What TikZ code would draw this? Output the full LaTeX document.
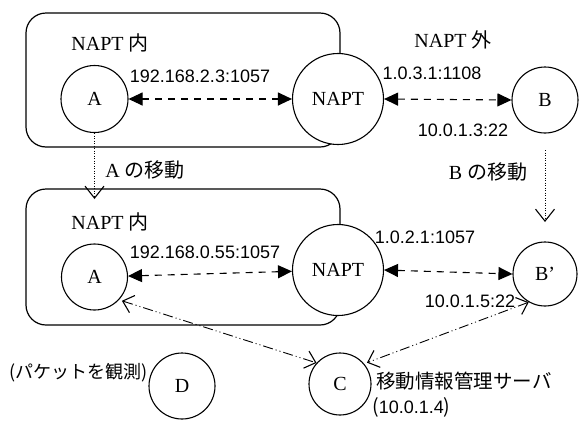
\documentclass[tikz,border=0pt]{standalone}
\usepackage{fontspec}
\setmainfont{Liberation Serif}
\setsansfont{Liberation Sans}
\newfontfamily\jp{Noto Sans CJK JP}
\newfontfamily\jpp[CharacterWidth=Proportional]{Noto Sans CJK JP}
\usetikzlibrary{arrows.meta}
\begin{document}
\begin{tikzpicture}[x=1pt,y=-1pt,
  box/.style={draw,line width=1.2pt,rounded corners=20pt,inner sep=0pt},
  circ/.style={draw,circle,line width=1.1pt,fill=white,inner sep=0pt,font=\fontsize{20}{24}\selectfont},
  lbl/.style={inner sep=0pt,font=\fontsize{20}{24}\selectfont},
  num/.style={inner sep=0pt,font=\sffamily\fontsize{18}{22}\selectfont},
  jlbl/.style={inner sep=0pt,font=\jp\fontsize{19.5}{22}\selectfont},
  dasharrow/.style={line width=1.1pt,dash pattern=on 7pt off 6pt,{Triangle[length=14pt,width=13pt]}-{Triangle[length=14pt,width=13pt]}},
  movearrow/.style={line width=0.9pt,dash pattern=on 1pt off 1.5pt,-{Straight Barb[length=12pt,width=19pt,line width=1.1pt]}},
  ddarrow/.style={line width=0.9pt,dash pattern=on 10pt off 3pt on 1pt off 3pt on 1pt off 3pt,{Straight Barb[length=10pt,width=18pt,line width=1.1pt]}-{Straight Barb[length=10pt,width=18pt,line width=1.1pt]}}
]
\useasboundingbox (0,0) rectangle (579,421);
% boxes
\node[box,minimum width=314pt,minimum height=134pt] (box1) at (183,80) {};
\node[box,minimum width=314pt,minimum height=136pt] (box2) at (183,257) {};
% circles
\node[circ,minimum size=67pt] (A1) at (94.5,99) {A};
\node[circ,minimum size=91pt] (N1) at (338,99) {NAPT};
\node[circ,minimum size=66pt] (B1) at (545,100) {B};
\node[circ,minimum size=66pt] (A2) at (94.5,277) {A};
\node[circ,minimum size=91pt] (N2) at (338,270) {NAPT};
\node[circ,minimum size=64pt] (B2) at (545,274) {B’};
\node[circ,minimum size=62pt] (C) at (340,384) {C};
\node[circ,minimum size=66pt] (D) at (182,386) {D};
% labels
\node[lbl] (t1) at (110,43) {NAPT {\jp 内}};
\node[lbl] (t2) at (110,222) {NAPT {\jp 内}};
\node[lbl] (t3) at (453,40) {NAPT {\jp 外}};
\node[lbl] (t4) at (145,170) {A {\jp の移動}};
\node[lbl] (t5) at (488,172) {B {\jp の移動}};
\node[num] (n1) at (200,76) {192.168.2.3:1057};
\node[num] (n2) at (205,252) {192.168.0.55:1057};
\node[num] (n3) at (432,73) {1.0.3.1:1108};
\node[num] (n4) at (463,130) {10.0.1.3:22};
\node[num] (n5) at (425,237) {1.0.2.1:1057};
\node[num] (n6) at (470,301) {10.0.1.5:22};
\node[jlbl,anchor=west] (j1) at (376,381) {移動情報管理サーバ};
\node[jlbl,anchor=west,font=\jpp\fontsize{19.5}{22}\selectfont] (j2) at (372,407) {（{\sffamily\fontsize{18}{22}\selectfont 10.0.1.4}）};
\node[jlbl,anchor=east,font=\jpp\fontsize{18}{22}\selectfont] (j3) at (148,373) {（パケットを観測）};
% connectors
\draw[dasharrow] (A1) -- (N1);
\draw[dasharrow] (N1.east) -- (B1.west);
\draw[dasharrow] (A2) -- (N2);
\draw[dasharrow] (N2.east) -- (B2.west);
\coordinate (mA) at (94.5,199);
\draw[movearrow] (A1.south) -- (mA);
\coordinate (bS) at (545,150);
\coordinate (bE) at (545,222);
\draw[movearrow] (bS) -- (bE);
\draw[ddarrow,shorten <=3pt] (A2.-43) -- (C.138);
\draw[ddarrow,shorten >=3pt] (B2.-120) -- (C.40);
\end{tikzpicture}
\end{document}
